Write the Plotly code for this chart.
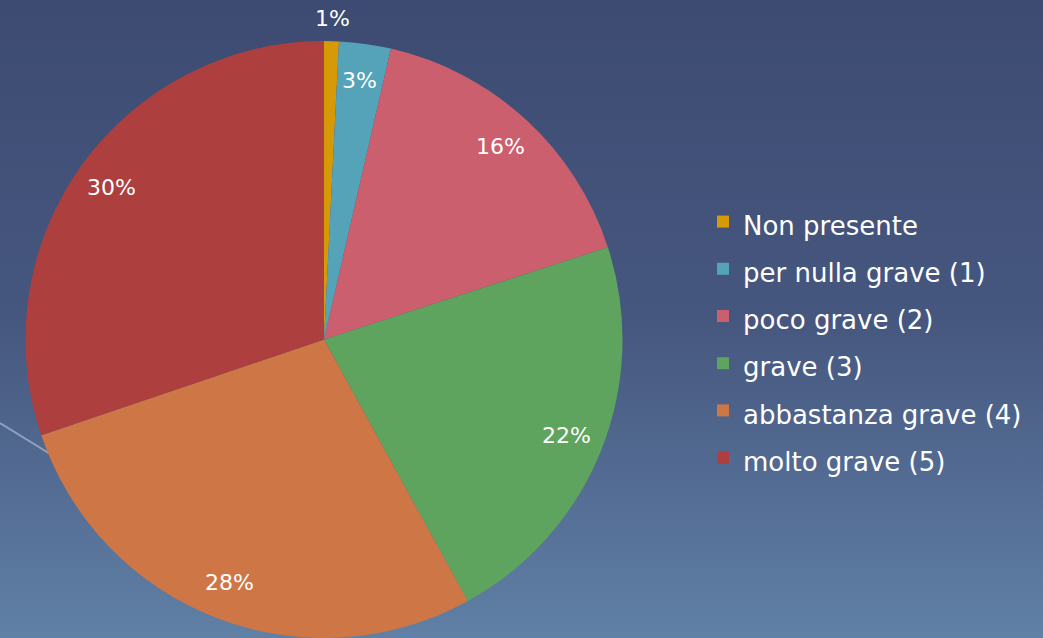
import math
import base64
import plotly.graph_objects as go

categories = ["Non presente", "per nulla grave (1)", "poco grave (2)",
              "grave (3)", "abbastanza grave (4)", "molto grave (5)"]
values = [0.8, 2.8, 16.4, 22.0, 27.8, 30.2]
colors = ["#d69a08", "#55a3b8", "#cc5f6e", "#5ea35e", "#cf7646", "#ae3f3f"]

W, H = 1043, 638
# pie geometry in pixels
px_left, px_right, px_top = 24, 624, 41
dom_x = [px_left / W, px_right / W]
dom_y = [0.0, 1 - px_top / H]
cx = (px_left + px_right) / 2
r = min(px_right - px_left, H - px_top) / 2
cy = px_top + r

legend_labels = [f'<span style="font-size:26px">{c}</span>' for c in categories]

fig = go.Figure()
fig.add_trace(go.Pie(
    labels=legend_labels,
    values=values,
    sort=False,
    direction="clockwise",
    rotation=0,
    marker=dict(colors=colors, line=dict(width=0)),
    textinfo="none",
    hoverinfo="percent",
    domain=dict(x=dom_x, y=dom_y),
))

# percentage labels placed like PowerPoint's best-fit
total = sum(values)
cum = 0.0
for v in values:
    mid = (cum + v / 2) / total * 2 * math.pi
    cum += v
    pct = v / total * 100
    f = 1.075 if pct < 2 else 0.875
    x = cx + r * f * math.sin(mid)
    y = cy - r * f * math.cos(mid)
    fig.add_annotation(
        x=x / W, y=1 - y / H, xref="paper", yref="paper",
        text=f"{round(pct)}%", showarrow=False,
        font=dict(family="DejaVu Sans", size=22, color="white"),
        xanchor="center", yanchor="middle",
    )

svg = (
    '<svg xmlns="http://www.w3.org/2000/svg" width="1043" height="638" preserveAspectRatio="none">'
    '<defs><linearGradient id="g" x1="0" y1="0" x2="0" y2="1">'
    '<stop offset="0" stop-color="#3d4b72"/>'
    '<stop offset="0.5" stop-color="#46577f"/>'
    '<stop offset="1" stop-color="#6080a6"/>'
    '</linearGradient></defs>'
    '<rect width="1043" height="638" fill="url(#g)"/></svg>'
)
src = "data:image/svg+xml;base64," + base64.b64encode(svg.encode()).decode()
fig.add_layout_image(dict(
    source=src, xref="paper", yref="paper", x=0, y=1, sizex=1, sizey=1,
    sizing="stretch", layer="below", xanchor="left", yanchor="top",
))

# decorative slide line
fig.add_shape(type="line", xref="paper", yref="paper",
              x0=0, y0=1 - 423 / H, x1=120 / W, y1=1 - 497 / H,
              line=dict(color="rgba(170,185,215,0.7)", width=2), layer="below")

fig.update_layout(
    width=W, height=H,
    margin=dict(l=0, r=0, t=0, b=0),
    paper_bgcolor="#46577f",
    plot_bgcolor="rgba(0,0,0,0)",
    showlegend=True,
    legend=dict(
        x=703 / W, y=1 - 193 / H, xanchor="left", yanchor="top",
        font=dict(family="DejaVu Sans", size=34, color="white"),
        bgcolor="rgba(0,0,0,0)",
        itemclick=False,
    ),
)

fig.write_html("out.html", config={"displayModeBar": False},
               post_script="document.body.style.margin='0';document.body.style.overflow='hidden';")
